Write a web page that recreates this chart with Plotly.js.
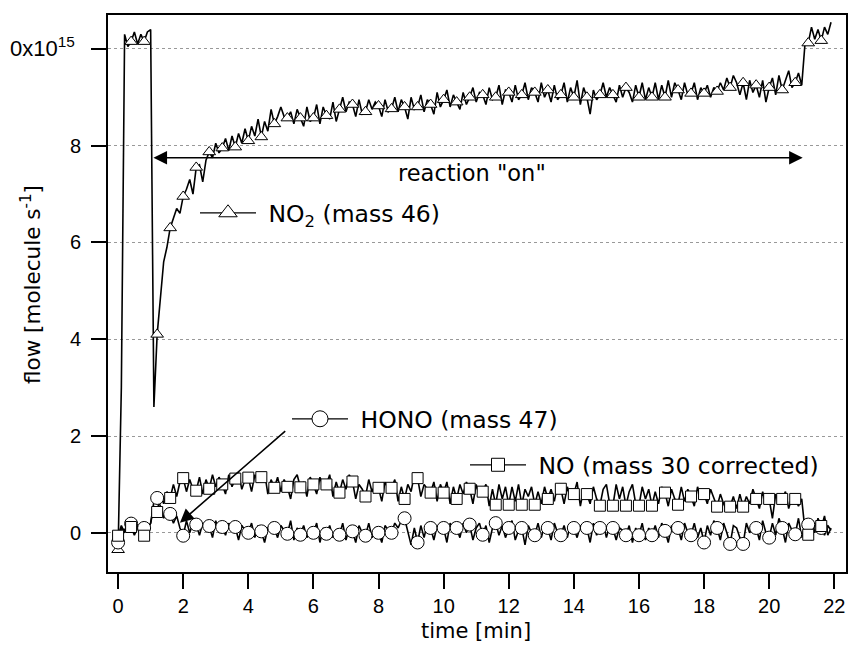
<!DOCTYPE html>
<html>
<head>
<meta charset="utf-8">
<script src="https://cdn.plot.ly/plotly-3.0.1.min.js"></script>
<style>html,body{margin:0;padding:0;background:#fff;}#chart{width:850px;height:646px;}</style>
</head>
<body>
<div id="chart"></div>
<script>
// time [min]
const time = [
0.0,0.1,0.2,0.3,0.4,0.5,0.6,0.7,0.8,0.9,
1.0,1.1,1.2,1.3,1.4,1.5,1.6,1.7,1.8,1.9,
2.0,2.1,2.2,2.3,2.4,2.5,2.6,2.7,2.8,2.9,
3.0,3.1,3.2,3.3,3.4,3.5,3.6,3.7,3.8,3.9,
4.0,4.1,4.2,4.3,4.4,4.5,4.6,4.7,4.8,4.9,
5.0,5.1,5.2,5.3,5.4,5.5,5.6,5.7,5.8,5.9,
6.0,6.1,6.2,6.3,6.4,6.5,6.6,6.7,6.8,6.9,
7.0,7.1,7.2,7.3,7.4,7.5,7.6,7.7,7.8,7.9,
8.0,8.1,8.2,8.3,8.4,8.5,8.6,8.7,8.8,8.9,
9.0,9.1,9.2,9.3,9.4,9.5,9.6,9.7,9.8,9.9,
10.0,10.1,10.2,10.3,10.4,10.5,10.6,10.7,10.8,10.9,
11.0,11.1,11.2,11.3,11.4,11.5,11.6,11.7,11.8,11.9,
12.0,12.1,12.2,12.3,12.4,12.5,12.6,12.7,12.8,12.9,
13.0,13.1,13.2,13.3,13.4,13.5,13.6,13.7,13.8,13.9,
14.0,14.1,14.2,14.3,14.4,14.5,14.6,14.7,14.8,14.9,
15.0,15.1,15.2,15.3,15.4,15.5,15.6,15.7,15.8,15.9,
16.0,16.1,16.2,16.3,16.4,16.5,16.6,16.7,16.8,16.9,
17.0,17.1,17.2,17.3,17.4,17.5,17.6,17.7,17.8,17.9,
18.0,18.1,18.2,18.3,18.4,18.5,18.6,18.7,18.8,18.9,
19.0,19.1,19.2,19.3,19.4,19.5,19.6,19.7,19.8,19.9,
20.0,20.1,20.2,20.3,20.4,20.5,20.6,20.7,20.8,20.9,
21.0,21.1,21.2,21.3,21.4,21.5,21.6,21.7,21.8,21.9
];

// NO2 (mass 46), units of 1e15 molecule/s
const no2 = [
-0.35,3.0,10.3,10.05,10.15,10.35,10.1,10.3,10.15,10.35,
10.4,2.6,4.1,4.9,5.6,5.9,6.3,6.5,6.7,6.6,
6.95,7.1,7.3,7.0,7.55,7.6,7.25,7.7,7.87,7.75,
8.05,7.85,7.95,8.15,7.9,8.2,7.97,8.25,8.05,8.35,
8.1,8.4,8.2,8.55,8.18,8.5,8.3,8.75,8.45,8.6,
8.8,8.6,8.57,8.7,8.45,8.75,8.57,8.4,8.8,8.5,
8.57,8.85,8.45,8.8,8.62,8.55,8.9,8.5,8.75,9.0,
8.7,8.9,8.85,8.6,8.95,8.65,8.7,8.95,8.75,8.9,
8.82,8.6,8.95,8.7,8.76,9.0,8.7,8.95,8.8,8.55,
9.0,8.75,8.8,9.05,8.7,8.95,8.85,8.65,9.1,8.8,
8.95,9.15,8.8,9.05,8.9,8.75,9.1,8.85,9.0,9.2,
8.9,9.1,9.05,8.85,9.2,8.95,9.0,9.25,8.85,9.15,
9.1,8.9,9.25,8.95,9.05,9.3,8.95,9.2,9.1,8.9,
9.3,9.0,9.15,8.9,9.25,8.95,9.05,9.3,8.9,9.2,
9.0,9.35,8.85,9.2,9.0,8.65,9.15,8.95,9.05,9.3,
9.0,9.2,9.05,8.9,9.25,9.0,9.2,9.1,8.9,9.25,
9.0,9.3,8.95,9.2,9.0,9.3,8.95,9.25,9.0,9.35,
9.0,9.3,9.15,8.95,9.3,9.05,9.08,9.3,8.95,9.2,
9.08,9.25,9.0,9.2,9.12,9.3,9.15,9.4,9.2,9.45,
9.3,9.05,9.3,8.95,9.35,9.1,9.25,9.0,9.35,8.9,
9.2,9.4,9.05,9.45,9.15,9.35,9.55,9.2,9.3,9.5,
9.25,10.1,10.12,10.45,10.2,10.4,10.17,10.45,10.3,10.55
];

// HONO (mass 47)
const hono = [
-0.2,0.1,0.05,0.2,0.19,0.0,0.15,-0.05,0.1,0.05,
0.2,0.65,0.72,0.55,0.3,0.5,0.39,0.2,0.35,0.1,
-0.06,0.25,0.0,0.2,0.17,-0.05,0.2,0.05,0.14,-0.1,
0.25,0.0,0.12,-0.05,0.2,0.05,0.12,-0.15,0.15,0.05,
0.0,0.2,-0.1,0.15,0.03,-0.2,0.1,0.2,0.1,-0.1,
0.15,0.05,-0.02,0.25,-0.15,0.1,-0.04,0.15,-0.1,0.05,
0.0,0.2,-0.2,0.1,-0.02,0.15,-0.1,0.05,-0.04,0.2,
-0.15,0.1,0.03,-0.2,0.15,0.0,-0.06,0.2,-0.1,0.1,
0.0,-0.2,0.15,0.05,0.0,0.2,0.1,0.25,0.3,0.05,
-0.25,0.1,-0.2,0.15,-0.1,0.2,0.1,-0.15,0.15,0.0,
0.1,-0.2,0.2,0.05,0.1,-0.1,0.2,0.0,0.17,-0.15,
0.1,0.2,-0.04,0.15,-0.2,0.1,0.2,-0.05,0.15,-0.1,
0.1,0.25,-0.15,0.05,0.1,-0.25,0.15,0.0,-0.05,0.2,
-0.1,0.15,0.1,-0.15,0.2,0.0,-0.05,0.15,-0.1,0.2,
0.1,-0.1,0.15,0.0,0.1,-0.2,0.2,-0.05,0.1,0.2,
-0.1,0.15,0.1,-0.15,0.1,0.05,-0.05,0.15,-0.2,0.1,
-0.05,0.2,-0.15,0.1,-0.05,0.15,-0.1,0.2,0.04,-0.2,
0.15,0.0,0.1,-0.15,0.2,0.0,-0.05,0.2,-0.1,0.1,
-0.2,0.15,-0.05,0.25,0.1,-0.15,0.2,0.0,-0.23,0.15,
0.1,-0.1,-0.23,0.2,0.0,0.15,0.1,-0.15,0.25,0.0,
-0.1,0.2,-0.05,0.3,0.1,-0.2,0.2,0.05,-0.03,0.3,
-0.1,0.15,0.17,-0.15,0.2,0.0,0.1,0.35,-0.05,0.1
];

// NO (mass 30 corrected)
const no = [
-0.06,0.15,0.0,0.2,0.12,-0.05,0.1,0.15,-0.06,0.1,
0.2,0.55,0.43,0.8,0.6,0.85,0.72,1.0,0.75,1.05,
1.13,0.85,1.1,0.9,0.87,1.15,0.8,1.1,0.91,1.2,
0.95,1.15,1.0,0.8,1.2,0.95,1.12,1.25,0.9,1.1,
1.14,0.85,1.2,1.05,1.15,1.25,0.8,1.1,0.93,1.15,
0.85,1.1,0.95,0.7,1.1,1.2,0.94,1.05,0.75,1.15,
1.0,0.8,1.15,0.95,1.0,1.2,0.75,1.05,0.83,1.1,
0.9,1.2,1.06,0.7,1.0,0.9,0.75,1.1,0.85,1.0,
0.93,0.65,1.05,0.9,0.93,1.1,0.65,0.95,0.7,1.0,
0.85,1.2,1.13,0.75,1.0,0.9,0.83,1.05,0.65,1.0,
0.83,1.05,0.6,0.95,0.7,1.0,0.8,1.05,0.91,0.6,
1.0,0.75,0.85,1.0,0.55,0.9,0.58,1.0,0.7,0.95,
0.58,0.95,0.65,1.0,0.58,0.9,0.75,0.95,0.58,0.85,
0.6,0.95,0.7,0.9,0.65,1.0,0.91,0.6,0.95,0.7,
0.8,1.05,0.55,0.9,0.8,0.6,0.95,0.7,0.56,0.9,
1.0,0.6,0.56,1.0,0.7,0.95,0.56,0.85,1.0,0.6,
0.56,0.95,0.7,0.9,0.56,0.85,0.6,0.95,0.83,0.55,
0.9,0.7,0.58,0.95,0.65,0.9,0.75,0.55,0.95,0.7,
0.8,0.6,0.9,0.7,0.54,0.8,0.6,0.45,0.54,0.75,
0.5,0.8,0.54,0.75,0.6,0.9,0.7,0.5,0.85,0.6,
0.7,0.3,0.8,0.6,0.7,0.85,0.5,0.75,0.7,0.55,
0.7,0.05,-0.04,0.2,0.0,0.3,0.14,-0.05,0.15,0.05
];

const yTickVals = [0, 2, 4, 6, 8, 10];
const yTickText = ['0', '2', '4', '6', '8', '<span style="font-size:22px">0x10<sup>15</sup>\u00A0</span>'];
const xTickVals = [0, 2, 4, 6, 8, 10, 12, 14, 16, 18, 20, 22];
const seriesNames = ['NO<sub>2</sub> (mass 46)', 'HONO (mass 47)', 'NO (mass 30 corrected)'];
const xTitle = 'time [min]';
const yTitle = 'flow [molecule s<sup>-1</sup>]';
const arrowLabel = 'reaction "on"';
const markerEvery = 4;

const FONT = 'Liberation Sans, Arial, Helvetica, sans-serif';
const WIDE = 'DejaVu Sans, Verdana, sans-serif';

function sample(arr) { return arr.filter((v, i) => i % markerEvery === 0); }

const series = [
  {y: no2, sym: 'triangle-up', size: 11, lsize: 16, legend: 'legend', name: seriesNames[0]},
  {y: hono, sym: 'circle', size: 13, lsize: 16, legend: 'legend2', name: seriesNames[1]},
  {y: no, sym: 'square', size: 11, lsize: 13, legend: 'legend3', name: seriesNames[2]}
];

const traces = [];
series.forEach(s => {
  traces.push({x: time, y: s.y, type: 'scatter', mode: 'lines', showlegend: false,
    line: {color: '#000', width: 1.6}, hoverinfo: 'skip'});
});
series.forEach(s => {
  traces.push({x: sample(time), y: sample(s.y), type: 'scatter', mode: 'markers', showlegend: false,
    marker: {symbol: s.sym, size: s.size, color: '#fff', line: {color: '#000', width: 1}}, hoverinfo: 'skip'});
});
series.forEach(s => {
  traces.push({x: [null], y: [null], type: 'scatter', mode: 'lines+markers', name: '\u00A0' + s.name,
    legend: s.legend, showlegend: true,
    line: {color: '#000', width: 1.3},
    marker: {symbol: s.sym, size: s.lsize, color: '#fff', line: {color: '#000', width: 1}}});
});

const L = 108, R = 4, T = 15, B = 74, W = 850, H = 646;
const pw = W - L - R, ph = H - T - B;
function px2x(p) { return (p - L) / pw; }
function px2y(p) { return (H - B - p) / ph; }

const legendBase = {xanchor: 'left', yanchor: 'middle', bgcolor: 'rgba(0,0,0,0)', borderwidth: 0,
  font: {family: WIDE, size: 23.5, color: '#000'}, itemwidth: 56, tracegroupgap: 0};

const layout = {
  width: W, height: H,
  margin: {l: L, r: R, t: T, b: B, pad: 0},
  paper_bgcolor: '#fff', plot_bgcolor: '#fff',
  font: {family: FONT, color: '#000'},
  xaxis: {
    range: [-0.31, 22.36], tickvals: xTickVals, ticks: 'outside', ticklen: 15, tickwidth: 2,
    tickcolor: '#000', showline: true, linewidth: 2, linecolor: '#000', mirror: true,
    showgrid: false, zeroline: false, tickfont: {family: FONT, size: 20, color: '#000'}
  },
  yaxis: {
    range: [-0.81, 10.70], tickvals: yTickVals, ticktext: yTickText, ticks: 'outside', ticklen: 15, tickwidth: 2,
    tickcolor: '#000', showline: true, linewidth: 2, linecolor: '#000', mirror: true,
    showgrid: true, gridcolor: '#999', griddash: 'dot', gridwidth: 1, zeroline: false,
    tickfont: {family: FONT, size: 20, color: '#000'}, ticklabelstandoff: 6
  },
  legend: Object.assign({}, legendBase, {x: px2x(195), y: px2y(213)}),
  legend2: Object.assign({}, legendBase, {x: px2x(287), y: px2y(419)}),
  legend3: Object.assign({}, legendBase, {x: px2x(465), y: px2y(465)}),
  annotations: [
    {x: 21.03, y: 7.75, ax: 1.04, ay: 7.75, xref: 'x', yref: 'y', axref: 'x', ayref: 'y', text: '',
     showarrow: true, arrowhead: 2, startarrowhead: 2, arrowside: 'end+start', arrowsize: 1.7, startarrowsize: 1.7,
     arrowwidth: 1.6, arrowcolor: '#000', standoff: 0, startstandoff: 0},
    {x: 1.90, y: 0.21, ax: 5.18, ay: 2.13, xref: 'x', yref: 'y', axref: 'x', ayref: 'y', text: '',
     showarrow: true, arrowhead: 2, arrowsize: 1.7, arrowwidth: 1.6, arrowcolor: '#000', standoff: 0},
    {x: 10.87, y: 7.44, xref: 'x', yref: 'y', text: arrowLabel, showarrow: false,
     font: {family: WIDE, size: 22.5, color: '#000'}},
    {x: px2x(476), y: px2y(631), xref: 'paper', yref: 'paper', xanchor: 'center', yanchor: 'middle',
     text: xTitle, showarrow: false, font: {family: WIDE, size: 21, color: '#000'}},
    {x: px2x(31), y: px2y(285), xref: 'paper', yref: 'paper', xanchor: 'center', yanchor: 'middle',
     text: yTitle, textangle: -90, showarrow: false, font: {family: WIDE, size: 21.5, color: '#000'}}
  ]
};

Plotly.newPlot('chart', traces, layout, {displayModeBar: false, staticPlot: true});
</script>
</body>
</html>
